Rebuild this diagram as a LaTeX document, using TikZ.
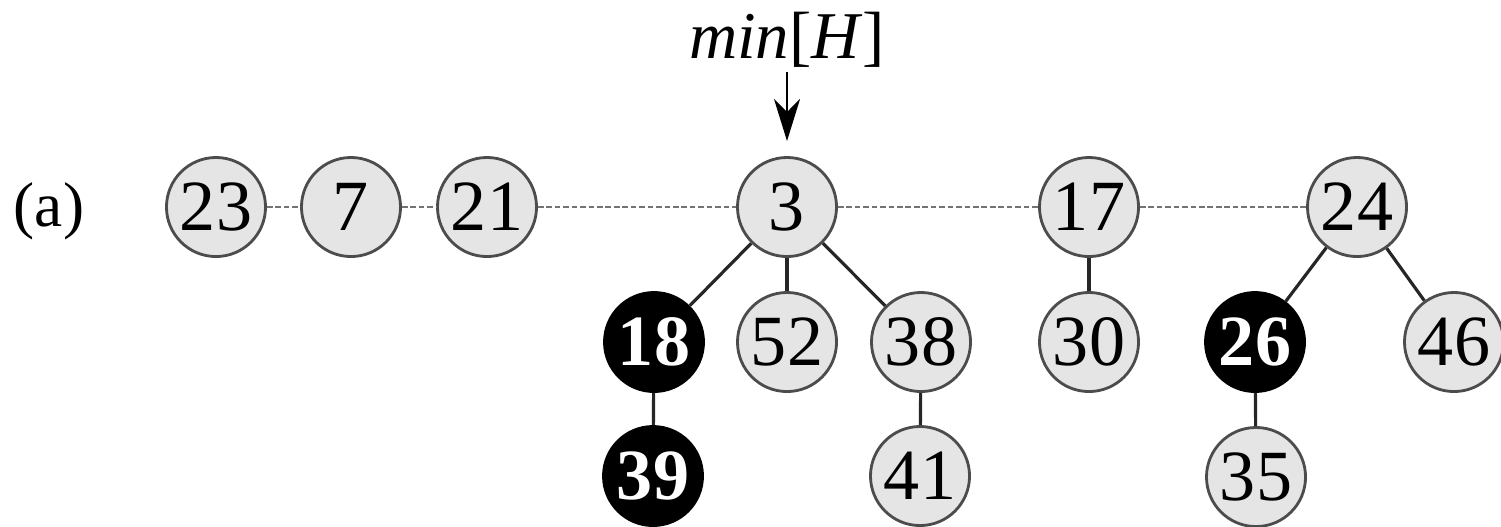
\documentclass[tikz,border=0pt]{standalone}
\usepackage{fontspec}
\setmainfont{Liberation Serif}
\usetikzlibrary{arrows.meta}
\begin{document}
\begin{tikzpicture}[x=0.01cm,y=-0.01cm,
  key/.style={circle, draw=black!70, line width=0.8pt, fill=black!10,
    minimum size=0.99cm, inner sep=0pt, font=\fontsize{20.5}{21}\selectfont},
  marked/.style={key, fill=black, draw=black, text=white,
    font=\fontsize{20.5}{21}\selectfont\bfseries},
  rootlink/.style={draw=black!55, line width=0.7pt, dash pattern=on 1.6pt off 0.8pt},
  childlink/.style={draw=black!85, line width=0.9pt},
  pointer/.style={line width=0.7pt, -{Stealth[length=0.42cm,width=0.26cm,inset=0.13cm]}}]
\useasboundingbox (0,0) rectangle (1501,526);

% label of the heap
\node[font=\fontsize{18}{20}\selectfont] (lbl) at (49,211) {(a)};

% root list
\node[key] (n23) at (216,207) {23};
\node[key] (n7)  at (351,207) {7};
\node[key] (n21) at (487,207) {21};
\node[key] (n3)  at (787,207) {3};
\node[key] (n17) at (1089,207) {17};
\node[key] (n24) at (1357,207) {24};

% second level
\node[marked] (n18) at (654,342) {18};
\node[key]    (n52) at (787,342) {52};
\node[key]    (n38) at (921,342) {38};
\node[key]    (n30) at (1089,342) {30};
\node[marked] (n26) at (1255,342) {26};
\node[key]    (n46) at (1454,342) {46};

% third level
\node[marked] (n39) at (653,476) {39};
\node[key]    (n41) at (920,476) {41};
\node[key]    (n35) at (1256,477) {35};

% minimum pointer
\node[font=\fontsize{19}{20}\selectfont, anchor=base] (minH) at (787,58) {\textit{min}[\textit{H}]};
\coordinate (ptrtop) at (787,72);
\coordinate (ptrtip) at (787,141);
\draw[pointer] (ptrtop) -- (ptrtip);

% root list links
\draw[rootlink] (n23) -- (n7);
\draw[rootlink] (n7) -- (n21);
\draw[rootlink] (n21) -- (n3);
\draw[rootlink] (n3) -- (n17);
\draw[rootlink] (n17) -- (n24);

% child links
\draw[childlink] (n3) -- (n18);
\draw[childlink] (n3) -- (n52);
\draw[childlink] (n3) -- (n38);
\draw[childlink] (n18) -- (n39);
\draw[childlink] (n38) -- (n41);
\draw[childlink] (n17) -- (n30);
\draw[childlink] (n24) -- (n26);
\draw[childlink] (n24) -- (n46);
\draw[childlink] (n26) -- (n35);
\end{tikzpicture}
\end{document}
